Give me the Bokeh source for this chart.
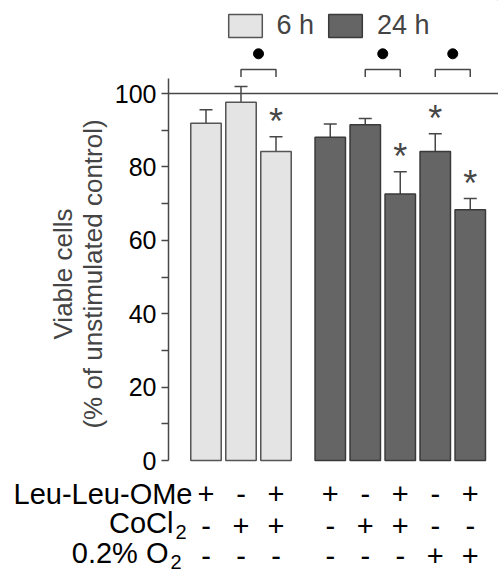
from bokeh.plotting import figure
from bokeh.layouts import column
from bokeh.models import (Range1d, LinearAxis, FixedTicker, Span, Whisker, TeeHead,
                          ColumnDataSource, Legend, LegendItem, Plot, LabelSet)
from bokeh.embed import file_html
from bokeh.resources import INLINE
from bokeh.core.properties import value

# ---------------- data ----------------
group = ["6 h", "6 h", "6 h", "24 h", "24 h", "24 h", "24 h", "24 h"]
viable = [91.9, 97.6, 84.2, 88.1, 91.5, 72.6, 84.2, 68.3]
sem = [3.7, 4.3, 4.0, 3.6, 1.7, 6.1, 4.8, 3.1]
significant = [False, False, True, False, False, True, True, True]
leu_leu_ome = ["+", "-", "+", "+", "-", "+", "-", "+"]
cocl2 = ["-", "+", "+", "-", "+", "+", "-", "-"]
o2_low = ["-", "-", "-", "-", "-", "-", "+", "+"]
bracket_pairs = [(1, 2), (4, 5), (6, 7)]
legend_labels = ["6 h", "24 h"]
y_ticks = [0, 20, 40, 60, 80, 100]
y_minor = [10, 30, 50, 70, 90]
y_label = "Viable cells\n(% of unstimulated control)"

# ---------------- layout helpers ----------------
W, H = 498, 576
FL, FB = 168, 460          # frame left / y=0 position in px
TOP_H = 77                 # strip holding legend + brackets
FRAME_BOT = 470            # main frame bottom (a little below y=0)
MID_PAD = 6                # room below the frame for the "0" tick label
PXX, X0 = 35.0, 205.5      # px per slot, px of first bar centre
PXY = 3.67                 # px per y unit

def xd(px):
    return (px - X0) / PXX

def yd(py):
    return (FB - py) / PXY

xs = [i + (0.55 if group[i] == "24 h" else 0.0) for i in range(len(viable))]

FONT = "Liberation Sans"
LIGHT, DARK = "#e4e4e4", "#656565"
EDGE = "#474747"
HAS_FRAME_ALIGN = "frame_align" in Plot.properties()


def make_fig(height, left_px, y0, y1, **kw):
    extra = dict(frame_align=False) if HAS_FRAME_ALIGN else {}
    f = figure(width=W, height=height, output_backend="svg", toolbar_location=None,
               x_range=Range1d(xd(left_px), xd(W)), y_range=Range1d(y0, y1),
               x_axis_location=None, y_axis_location=None, min_border=0, **extra, **kw)
    f.outline_line_color = None
    f.grid.visible = False
    f.background_fill_color = "white"
    f.border_fill_color = "white"
    return f

# ---------------- main panel ----------------
p = make_fig(FRAME_BOT + MID_PAD - TOP_H, FL, yd(FRAME_BOT), yd(TOP_H),
             min_border_left=FL, min_border_bottom=MID_PAD)

p.add_layout(Span(location=100, dimension="width", line_color=EDGE, line_width=1.5))

styles = {"6 h": (LIGHT, "#555555"), "24 h": (DARK, "#3a3a3a")}
for g in legend_labels:
    col, edge = styles[g]
    idx = [i for i in range(len(viable)) if group[i] == g]
    src = ColumnDataSource(dict(x=[xs[i] for i in idx], top=[viable[i] for i in idx]))
    p.vbar(x="x", top="top", bottom=0, width=0.87, source=src,
           fill_color=col, line_color=edge, line_width=1.5)

esrc = ColumnDataSource(dict(x=xs, top=viable, upper=[v + e for v, e in zip(viable, sem)]))
p.add_layout(Whisker(base="x", lower="top", upper="upper", source=esrc,
                     line_color=EDGE, line_width=1.5, lower_head=None,
                     upper_head=TeeHead(size=13, line_color=EDGE, line_width=1.5)))

ax = [xs[i] for i in range(len(viable)) if significant[i]]
ay = [viable[i] + sem[i] for i in range(len(viable)) if significant[i]]
p.text(x=ax, y=ay, text=["*"] * len(ax), text_font=value(FONT), text_font_size="36px",
       text_color=EDGE, text_align="center", text_baseline="middle", y_offset=-15)

yaxis = LinearAxis(bounds=(0, 104), ticker=FixedTicker(ticks=y_ticks, minor_ticks=y_minor),
                   axis_line_color=EDGE, axis_line_width=1.5,
                   major_tick_line_color=EDGE, major_tick_line_width=1.5,
                   minor_tick_line_color=EDGE, minor_tick_line_width=1.5,
                   major_tick_in=0, major_tick_out=7, minor_tick_in=0, minor_tick_out=7,
                   major_label_text_font=FONT, major_label_text_font_size="25px",
                   major_label_text_color="black", major_label_standoff=5,
                   axis_label=y_label, axis_label_text_font=FONT,
                   axis_label_text_font_size="26px", axis_label_text_font_style="normal",
                   axis_label_text_color="#444444", axis_label_text_line_height=0.98,
                   axis_label_standoff=4)
p.add_layout(yaxis, "left")

# ---------------- top strip: legend, brackets, dots ----------------
t = make_fig(TOP_H, 0, yd(TOP_H), yd(0))
leg_r = []
for g in legend_labels:
    col, edge = styles[g]
    # stand-in bar far outside the visible range, only so the legend can draw its swatch
    leg_r.append(t.vbar(x=[1000], top=[1000], bottom=[999], width=0.87, fill_color=col,
                        line_color=edge, line_width=1.5))
legend = Legend(items=[LegendItem(label=g, renderers=[r]) for g, r in zip(legend_labels, leg_r)],
                location=(223.5, TOP_H - 41), orientation="horizontal",
                glyph_width=42, glyph_height=29, label_standoff=11, spacing=10,
                padding=0, margin=0, label_text_font=FONT, label_text_font_size="27px",
                border_line_alpha=0, background_fill_alpha=0)
t.add_layout(legend)

bx, by = [], []
for a, b in bracket_pairs:
    bx.append([xs[a], xs[a], xs[b], xs[b]])
    by.append([yd(76.5), yd(69), yd(69), yd(76.5)])
t.multi_line(bx, by, line_color=EDGE, line_width=1.5)
t.scatter(x=[(xs[a] + xs[b]) / 2 for a, b in bracket_pairs], y=[yd(53.3)] * len(bracket_pairs),
          size=10, color="black")

# ---------------- bottom strip: treatment table ----------------
top_b = FRAME_BOT + MID_PAD
b = make_fig(H - top_b, 0, yd(H), yd(top_b))
rows = [("Leu-Leu-OMe", None, leu_leu_ome, 503, 503, 192),
        ("CoCl", "2", cocl2, 532, 535, 173),
        ("0.2% O", "2", o2_low, 562, 565, 168)]
name_x, name_y, name_t = [], [], []
sub_x, sub_y, sub_t = [], [], []
sign_x, sign_y, sign_t = [], [], []
for name, sub, signs, base_px, sign_px, right_px in rows:
    name_x.append(xd(right_px)); name_y.append(yd(base_px)); name_t.append(name)
    if sub:
        sub_x.append(xd(right_px + 2)); sub_y.append(yd(base_px + 6)); sub_t.append(sub)
    sign_x += xs; sign_y += [yd(sign_px)] * len(xs); sign_t += signs

for (sx, sy, st, size, align) in ((name_x, name_y, name_t, "29px", "right"),
                                  (sub_x, sub_y, sub_t, "20px", "left"),
                                  (sign_x, sign_y, sign_t, "29px", "center")):
    src = ColumnDataSource(dict(x=sx, y=sy, t=st))
    b.add_layout(LabelSet(x="x", y="y", text="t", source=src, text_font=value(FONT),
                          text_font_size=size, text_color="black", text_align=align,
                          text_baseline="alphabetic"))

layout = column(t, p, b, spacing=0)
open("out.html", "w").write(file_html(layout, INLINE))
